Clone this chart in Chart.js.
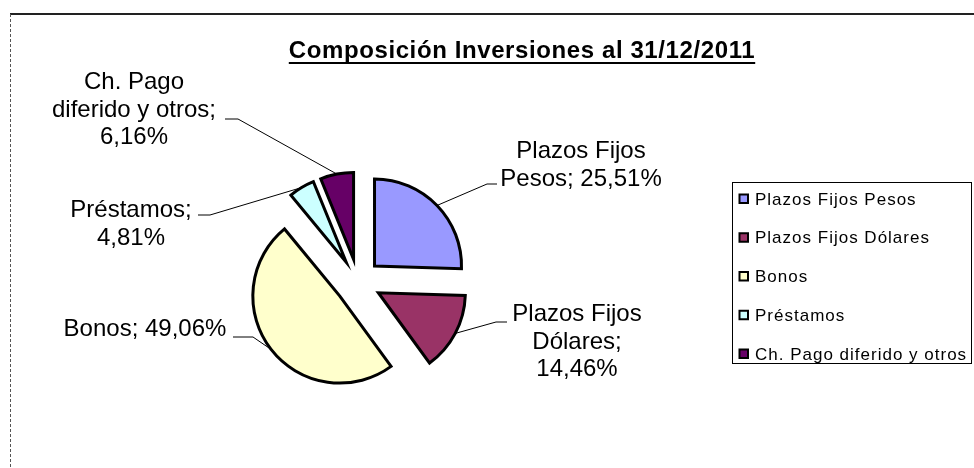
<!DOCTYPE html>
<html>
<head>
<meta charset="utf-8">
<script src="https://cdn.jsdelivr.net/npm/chart.js@4.4.0/dist/chart.umd.min.js"></script>
<style>
    html, body { margin: 0; padding: 0; background: #fff; }
    canvas { display: block; }
</style>
</head>
<body>
<canvas id="pieChart" width="974" height="468"></canvas>
<script>
// Values
const categories = ['Plazos Fijos Pesos', 'Plazos Fijos Dólares', 'Bonos', 'Préstamos', 'Ch. Pago diferido y otros'];
const shares = [25.51, 14.46, 49.06, 4.81, 6.16];
const sliceColors = ['#9999FF', '#993366', '#FFFFCC', '#CCFFFF', '#660066'];
const chartTitle = 'Composición Inversiones al 31/12/2011';

// Where each data label sits: text centre, first baseline, words per line,
// leader elbow (ex, ey) and end of the short horizontal tail (tx)
const labelLayout = [
    { cx: 581, y: 158, words: [2, 2],    ex: 487, ey: 184, tx: 497 },
    { cx: 577, y: 321, words: [2, 1, 1], ex: 496, ey: 322, tx: 507 },
    { cx: 145, y: 336, words: [2],       ex: 253, ey: 337, tx: 233 },
    { cx: 131, y: 217, words: [1, 1],    ex: 210, ey: 215, tx: 198 },
    { cx: 134, y: 89,  words: [2, 3, 1], ex: 238, ey: 119, tx: 225 }
];

const FONT = '"Liberation Sans", Arial, sans-serif';
const EXPLODE = 23;   // distance each slice is pulled out of the pie

function formatShare(v) {
    return v.toFixed(2).replace('.', ',') + '%';
}

/**
 * Draws each arc pulled out along its mid angle (Excel style exploded pie)
 */
const explodePlugin = {
    id: 'explode',
    beforeDatasetDraw(chart, args) {
        const ctx = chart.ctx;
        args.meta.data.forEach(arc => {
            const mid = (arc.startAngle + arc.endAngle) / 2;
            ctx.save();
            ctx.translate(Math.cos(mid) * EXPLODE, Math.sin(mid) * EXPLODE);
            arc.draw(ctx);
            ctx.restore();
        });
        return false;
    }
};

/**
 * Data labels with leader lines going to the middle of each slice's arc
 */
const labelPlugin = {
    id: 'sliceLabels',
    afterDatasetsDraw(chart) {
        const ctx = chart.ctx;
        const arcs = chart.getDatasetMeta(0).data;
        ctx.save();
        arcs.forEach((arc, i) => {
            const lay = labelLayout[i];
            const mid = (arc.startAngle + arc.endAngle) / 2;
            const r = arc.outerRadius + EXPLODE;
            const px = arc.x + Math.cos(mid) * r;
            const py = arc.y + Math.sin(mid) * r;

            // leader line
            ctx.strokeStyle = '#000';
            ctx.lineWidth = 1;
            ctx.beginPath();
            ctx.moveTo(px, py);
            ctx.lineTo(lay.ex, lay.ey);
            ctx.lineTo(lay.tx, lay.ey);
            ctx.stroke();

            // wrapped label text
            const words = (chart.data.labels[i] + '; ' + formatShare(shares[i])).split(' ');
            ctx.fillStyle = '#000';
            ctx.font = '24px ' + FONT;
            ctx.textAlign = 'center';
            ctx.textBaseline = 'alphabetic';
            let w = 0;
            lay.words.forEach((n, line) => {
                ctx.fillText(words.slice(w, w + n).join(' '), lay.cx, lay.y + line * 27.5);
                w += n;
            });
        });
        ctx.restore();
    }
};

/**
 * Frame, underlined title and boxed legend
 */
const decorPlugin = {
    id: 'decor',
    afterDraw(chart) {
        const ctx = chart.ctx;
        ctx.save();

        // chart frame (top and left edges are visible in the reference)
        ctx.strokeStyle = '#222';
        ctx.lineWidth = 2;
        ctx.beginPath();
        ctx.moveTo(10, 14);
        ctx.lineTo(974, 14);
        ctx.stroke();
        ctx.strokeStyle = '#555';
        ctx.lineWidth = 1;
        ctx.setLineDash([3, 2]);
        ctx.beginPath();
        ctx.moveTo(10.5, 14);
        ctx.lineTo(10.5, 468);
        ctx.stroke();
        ctx.setLineDash([]);

        // title
        ctx.fillStyle = '#000';
        ctx.font = 'bold 24px ' + FONT;
        ctx.letterSpacing = '0.6px';
        ctx.textAlign = 'center';
        ctx.textBaseline = 'alphabetic';
        ctx.fillText(chartTitle, 522, 58);
        const tw = ctx.measureText(chartTitle).width;
        ctx.fillRect(522 - tw / 2, 62, tw, 2);

        // legend
        ctx.strokeStyle = '#000';
        ctx.lineWidth = 1;
        ctx.strokeRect(732.5, 182.5, 239, 181);
        ctx.font = '17px ' + FONT;
        ctx.letterSpacing = '1px';
        ctx.textAlign = 'left';
        ctx.textBaseline = 'middle';
        chart.data.labels.forEach((label, i) => {
            const y = 199 + i * 38.75;
            ctx.fillStyle = sliceColors[i];
            ctx.fillRect(739.5, y - 4.5, 8.5, 8.5);
            ctx.lineWidth = 2;
            ctx.strokeRect(739.5, y - 4.5, 8.5, 8.5);
            ctx.fillStyle = '#000';
            ctx.fillText(label, 755, y + 1);
        });
        ctx.restore();
    }
};

new Chart(document.getElementById('pieChart'), {
    type: 'pie',
    data: {
        labels: categories,
        datasets: [{
            data: shares,
            backgroundColor: sliceColors,
            borderColor: '#000',
            borderWidth: 3,
            borderJoinStyle: 'miter',
            radius: 87
        }]
    },
    options: {
        responsive: false,
        animation: false,
        events: [],
        layout: {
            padding: { left: 200, right: 458, top: 180, bottom: 84 }
        },
        plugins: {
            legend: { display: false },
            title: { display: false },
            tooltip: { enabled: false }
        }
    },
    plugins: [explodePlugin, labelPlugin, decorPlugin]
});
</script>
</body>
</html>
